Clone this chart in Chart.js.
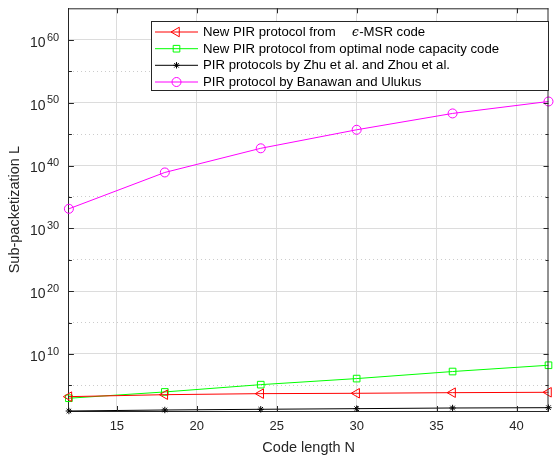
<!DOCTYPE html>
<html><head><meta charset="utf-8">
<script src="https://cdn.jsdelivr.net/npm/chart.js@4.4.0/dist/chart.umd.min.js"></script>
<style>
html,body{margin:0;padding:0;background:#fff;overflow:hidden}
#wrap{position:relative;width:555px;height:459px}
</style></head><body>
<div id="wrap"><canvas id="chart" width="555" height="459"></canvas></div>
<script>
/* sub-packetization vs code length, log y */
const codeLength = [12, 18, 24, 30, 36, 42];
const epsMsr   = [1.6e3, 3.3e3, 4.8e3, 5.5e3, 6.9e3, 7.9e3];
const nodeCap  = [9e2, 9e3, 1.3e5, 1.2e6, 1.6e7, 1.6e8];
const zhuZhou  = [8.3, 12, 15.5, 19.5, 25, 28];
const banawan  = [1.3e33, 8e38, 5.6e42, 5e45, 2e48, 1.6e50];
const xTicks = [15, 20, 25, 30, 35, 40];
const yExponents = [10, 20, 30, 40, 50, 60];
const yMinorExponents = [5, 15, 25, 35, 45, 55];
const seriesNames = [
  'New PIR protocol from',
  'New PIR protocol from optimal node capacity code',
  'PIR protocols by Zhu et al. and Zhou et al.',
  'PIR protocol by Banawan and Ulukus'
];

const FONT = "'Liberation Sans', Arial, sans-serif";
const AXC = '#262626';

function pts(ys){ return codeLength.map((x,i)=>({x, y: ys[i]})); }

function series(label, ys, color, style, r, rot){
  return {
    label, data: pts(ys), borderColor: color, borderWidth: 1,
    pointStyle: style, pointRadius: r, pointRotation: rot||0,
    pointBorderColor: color, pointBackgroundColor: 'rgba(0,0,0,0)',
    pointBorderWidth: 1, tension: 0, clip: false, fill: false
  };
}

const datasets = [
  series(seriesNames[0], epsMsr, '#ff0000', 'triangle', 5.5, -90),
  series(seriesNames[1], nodeCap, '#00ff00', 'rect', 4.7),
  series(seriesNames[2], zhuZhou, '#000000', 'star', 3.2),
  series(seriesNames[3], banawan, '#ff00ff', 'circle', 4.5)
];

function drawMarker(ctx, ds, x, y){
  const r = ds.pointRadius;
  ctx.save();
  ctx.strokeStyle = ds.borderColor; ctx.lineWidth = 1;
  ctx.beginPath();
  if(ds.pointStyle === 'triangle'){
    let a = ds.pointRotation * Math.PI/180;
    for(let k=0;k<3;k++){
      const px = x + Math.sin(a)*r, py = y - Math.cos(a)*r;
      k ? ctx.lineTo(px,py) : ctx.moveTo(px,py);
      a += 2*Math.PI/3;
    }
    ctx.closePath();
  }else if(ds.pointStyle === 'rect'){
    const s = r*Math.SQRT1_2;
    ctx.rect(x-s, y-s, 2*s, 2*s);
  }else if(ds.pointStyle === 'circle'){
    ctx.arc(x, y, r, 0, 2*Math.PI);
  }else{
    for(let k=0;k<4;k++){
      const a = k*Math.PI/4;
      ctx.moveTo(x - Math.cos(a)*r, y - Math.sin(a)*r);
      ctx.lineTo(x + Math.cos(a)*r, y + Math.sin(a)*r);
    }
  }
  ctx.stroke();
  ctx.restore();
}

const matlabBox = {
  id: 'matlabBox',
  afterDraw(chart){
    const {ctx, chartArea: a, scales} = chart;
    const xs = scales.x, ys = scales.y;
    ctx.save();
    ctx.strokeStyle = AXC; ctx.lineWidth = 1;
    // top / right spines
    ctx.beginPath();
    ctx.moveTo(a.left, a.top+0.5); ctx.lineTo(a.right, a.top+0.5);
    ctx.moveTo(a.right-0.5, a.top); ctx.lineTo(a.right-0.5, a.bottom);
    // inward ticks
    xTicks.forEach(v=>{
      const px = Math.round(xs.getPixelForValue(v))+0.5;
      ctx.moveTo(px, a.bottom); ctx.lineTo(px, a.bottom-5);
      ctx.moveTo(px, a.top); ctx.lineTo(px, a.top+5);
    });
    yExponents.forEach(e=>{
      const py = Math.round(ys.getPixelForValue(Math.pow(10,e)))+0.5;
      ctx.moveTo(a.left, py); ctx.lineTo(a.left+5, py);
      ctx.moveTo(a.right, py); ctx.lineTo(a.right-5, py);
    });
    yMinorExponents.forEach(e=>{
      const py = Math.round(ys.getPixelForValue(Math.pow(10,e)))+0.5;
      ctx.moveTo(a.left, py); ctx.lineTo(a.left+3, py);
      ctx.moveTo(a.right, py); ctx.lineTo(a.right-3, py);
    });
    ctx.stroke();

    // y tick labels 10^e
    ctx.fillStyle = AXC;
    yExponents.forEach(e=>{
      const py = ys.getPixelForValue(Math.pow(10,e));
      ctx.font = '14px ' + FONT;
      ctx.textAlign = 'right'; ctx.textBaseline = 'alphabetic';
      ctx.fillText('10', 45.5, py+6.9);
      ctx.font = '11px ' + FONT;
      ctx.textAlign = 'left';
      ctx.fillText(String(e), 47, py+0.6);
    });

    // legend
    const L = {x:151, y:21, w:398, h:70};
    ctx.fillStyle = '#fff';
    ctx.fillRect(L.x, L.y, L.w, L.h);
    ctx.strokeStyle = AXC;
    ctx.strokeRect(L.x+0.5, L.y+0.5, L.w-1, L.h-1);
    const rows = [32, 48.7, 65.3, 82];
    chart.data.datasets.forEach((ds,i)=>{
      const yy = rows[i];
      ctx.strokeStyle = ds.borderColor;
      ctx.beginPath(); ctx.moveTo(155, yy); ctx.lineTo(198, yy); ctx.stroke();
      drawMarker(ctx, ds, 176.5, yy);
      ctx.fillStyle = '#000';
      ctx.font = '13.2px ' + FONT;
      ctx.textAlign = 'left'; ctx.textBaseline = 'middle';
      ctx.fillText(ds.label, 203, yy+0.5);
      if(i === 0){
        ctx.font = "italic 12px 'DejaVu Serif', serif";
        ctx.fillText('\u03f5', 352, yy+1);
        const w = ctx.measureText('\u03f5').width;
        ctx.font = '13.2px ' + FONT;
        ctx.fillText('-MSR code', 352 + w + 0.5, yy+0.5);
      }
    });
    ctx.restore();
  }
};

new Chart(document.getElementById('chart'), {
  type: 'line',
  data: { datasets },
  options: {
    responsive: false, animation: false, devicePixelRatio: 1,
    layout: { padding: { top: 8.3, left: 0, right: 0, bottom: 0 } },
    plugins: { legend: { display: false }, tooltip: { enabled: false } },
    scales: {
      x: {
        type: 'linear', min: 12, max: 42,
        afterBuildTicks: s => { s.ticks = xTicks.map(v=>({value:v})); },
        afterFit: s => { s.height = 48; },
        grid: { color: '#dcdcdc', drawTicks: false },
        border: { color: AXC },
        ticks: { color: AXC, font: { family: FONT, size: 13 }, padding: 7.5, maxRotation: 0, autoSkip: false },
        title: { display: true, text: 'Code length N', color: AXC,
                 font: { family: FONT, size: 14.5 }, padding: { top: 0, bottom: 2.5 } }
      },
      y: {
        type: 'logarithmic', min: 8.3, max: 1.1e65,
        afterBuildTicks: s => { s.ticks = yExponents.map(e=>({value:Math.pow(10,e)})); },
        afterFit: s => { s.width = 68.9; },
        grid: { color: '#dcdcdc', drawTicks: false },
        border: { color: AXC },
        ticks: { display: false },
        title: { display: true, text: 'Sub-packetization L', color: AXC,
                 font: { family: FONT, size: 14.5 }, padding: { top: 6, bottom: 0 } }
      },
      y2: {
        type: 'logarithmic', position: 'left', min: 8.3, max: 1.1e65,
        afterBuildTicks: s => { s.ticks = yMinorExponents.map(e=>({value:Math.pow(10,e)})); },
        afterFit: s => { s.width = 0; },
        grid: { color: '#cccccc', drawTicks: false },
        border: { display: false, dash: [1, 3] },
        ticks: { display: false }
      }
    }
  },
  plugins: [matlabBox]
});
</script>
</body></html>
